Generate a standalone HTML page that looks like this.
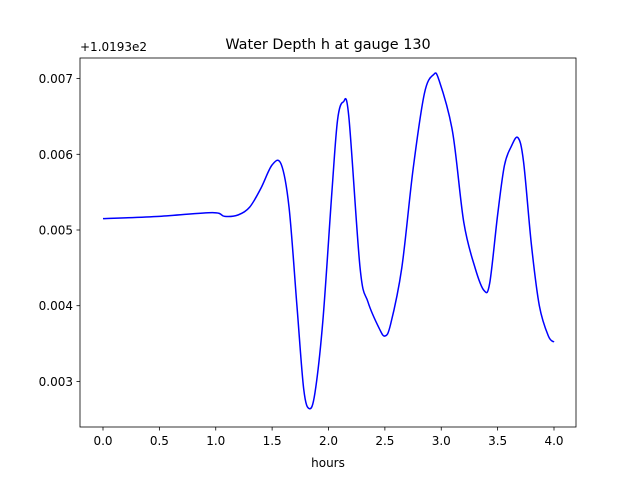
<!DOCTYPE html>
<html><head><meta charset="utf-8">
<style>
body{margin:0;background:#fff;}
svg text{font-family:"DejaVu Sans","Liberation Sans",sans-serif;fill:#000;}
</style></head>
<body>
<svg id="chart" width="640" height="480" xmlns="http://www.w3.org/2000/svg">
<rect width="640" height="480" fill="#fff"/>
<text x="328" y="49" font-size="14.4" text-anchor="middle">Water Depth h at gauge 130</text>
<text x="80" y="51" font-size="12">+1.0193e2</text>
<g id="xticks"></g><g id="yticks"></g>
<path id="series" fill="none" stroke="#0000ff" stroke-width="1.5"/>
<rect x="80" y="58" width="496" height="369" fill="none" stroke="#000" stroke-width="0.8"/>
<text x="328" y="467" font-size="12" text-anchor="middle">hours</text>
</svg>
<script>
const hours=[0,0.5,0.97,1.08,1.2,1.3,1.4,1.5,1.58,1.65,1.72,1.78,1.83,1.88,1.95,2.03,2.08,2.13,2.18,2.28,2.35,2.45,2.5,2.55,2.65,2.75,2.85,2.93,2.98,3.1,3.2,3.3,3.38,3.43,3.5,3.56,3.62,3.68,3.73,3.8,3.87,3.95,4.0];
const depth=[5.15,5.18,5.23,5.18,5.2,5.3,5.55,5.86,5.87,5.3,4.0,2.9,2.64,2.85,3.8,5.5,6.45,6.69,6.5,4.5,4.05,3.7,3.6,3.75,4.5,5.8,6.8,7.05,6.98,6.3,5.1,4.5,4.2,4.3,5.2,5.85,6.1,6.22,5.9,4.8,4.0,3.6,3.52];
const xTicks=[0,0.5,1,1.5,2,2.5,3,3.5,4];
const xTickLabels=["0.0","0.5","1.0","1.5","2.0","2.5","3.0","3.5","4.0"];
const yTicks=[3,4,5,6,7];
const yTickLabels=["0.003","0.004","0.005","0.006","0.007"];
const X=v=>103+v*112.75;
const Y=v=>230-(v-5)*75.7;
const NS="http://www.w3.org/2000/svg";
function mk(t,a,p){const e=document.createElementNS(NS,t);for(const k in a)e.setAttribute(k,a[k]);p.appendChild(e);return e;}
const xg=document.getElementById('xticks'),yg=document.getElementById('yticks');
xTicks.forEach((v,i)=>{
 const l=mk('line',{x1:X(v),x2:X(v),y1:427,y2:430.5,stroke:'#000','stroke-width':0.8},xg);
 
 
 const t=mk('text',{x:X(v),y:445,'font-size':12,'text-anchor':'middle'},xg);t.textContent=xTickLabels[i];
 
 
});
yTicks.forEach((v,i)=>{
 const l=mk('line',{x1:76.5,x2:80,y1:Y(v),y2:Y(v),stroke:'#000','stroke-width':0.8},yg);
 
 
 const t=mk('text',{x:73,y:Y(v)+4.5,'font-size':12,'text-anchor':'end'},yg);t.textContent=yTickLabels[i];
 
 
});
const pts=hours.map((h,i)=>[X(h),Y(depth[i])]);
let d=`M${pts[0][0]},${pts[0][1]}`;
for(let i=0;i<pts.length-1;i++){
 const p0=pts[i-1]||pts[i],p1=pts[i],p2=pts[i+1],p3=pts[i+2]||p2;
 const c1=[p1[0]+(p2[0]-p0[0])/6,p1[1]+(p2[1]-p0[1])/6];
 const c2=[p2[0]-(p3[0]-p1[0])/6,p2[1]-(p3[1]-p1[1])/6];
 d+=` C${c1[0]},${c1[1]} ${c2[0]},${c2[1]} ${p2[0]},${p2[1]}`;
}
document.getElementById('series').setAttribute('d',d);
</script>
</body></html>
